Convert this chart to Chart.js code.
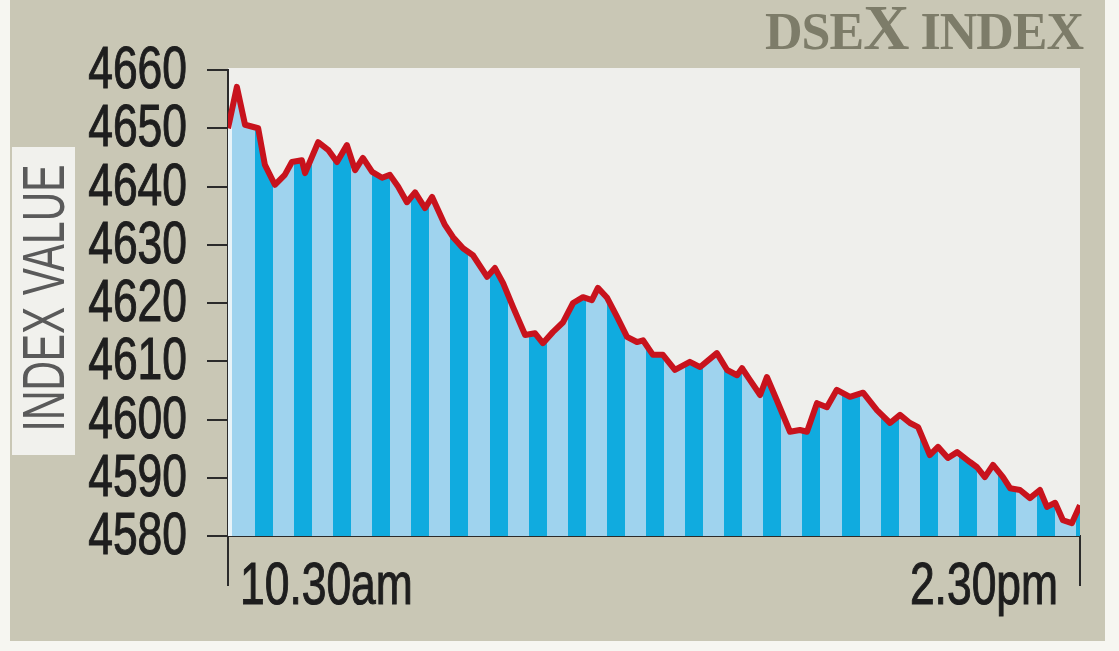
<!DOCTYPE html>
<html lang="en">
<head>
  <meta charset="UTF-8" />
  <title>DSEX Index</title>
  <script src="https://cdn.jsdelivr.net/npm/chart.js"></script>
  <style>
    body {
      margin: 0;
      background: #f6f6f1;
    }
    #wrap {
      position: relative;
      width: 1119px;
      height: 651px;
      overflow: hidden;
    }
    #panel {
      position: absolute;
      left: 10px;
      top: 0;
      width: 1095px;
      height: 641px;
      background: #c9c7b5;
    }
    #chart {
      position: absolute;
      left: 0;
      top: 0;
    }
    #title {
      position: absolute;
      right: 36px;
      top: -4px;
      font-family: 'Liberation Serif', 'DejaVu Serif', serif;
      font-weight: bold;
      font-size: 52px;
      line-height: 1;
      color: #7d7c69;
      white-space: nowrap;
      letter-spacing: -1px;
    }
    #title .big { font-size: 64px; }
    #ybox {
      position: absolute;
      left: 12px;
      top: 147px;
      width: 63px;
      height: 308px;
      background: #f1f1ed;
    }
    #ylabel {
      position: absolute;
      left: 44px;
      top: 298px;
      transform: translate(-50%, -50%) rotate(-90deg) scaleX(0.68);
      font-family: 'Liberation Sans', Arial, sans-serif;
      font-size: 60px;
      line-height: 1;
      color: #5a5a5a;
      white-space: nowrap;
    }
  </style>
</head>
<body>
  <div id="wrap">
    <div id="panel"></div>
    <div id="ybox"></div>
    <div id="ylabel">INDEX VALUE</div>
    <canvas id="chart" width="1119" height="651"></canvas>
    <div id="title">DSE<span class="big">X</span> INDEX</div>
  </div>
  <script>
    // minutes after 10.30am
    const minutes = [0, 2.5, 4.8, 8.5, 10.4, 13.2, 16, 18, 20.8, 21.7, 25.4, 28.2, 30.7, 33.5, 35.8, 38, 40.6, 43.4, 45.6, 47.9,
      50.4, 52.7, 55.5, 57.5, 61.1, 63.4, 66.2, 69, 73, 75.2, 77.5, 80.3, 83.7, 86.5, 88.7, 91.5, 94.4, 97.2, 100, 102.5,
      104.2, 106.8, 109.6, 112.4, 115.2, 116.9, 119.7, 122.5, 125.9, 130.1, 133, 137.7, 140.6, 143.4, 144.8, 147, 149.9, 151.8, 154.6, 158.3,
      161.1, 163.1, 165.9, 168.7, 171.5, 175.2, 178.9, 182.8, 186.5, 189.3, 192.1, 194.4, 197.7, 200, 202.8, 205.4, 209, 211, 213.2, 215.5,
      218.3, 220.3, 223.1, 225.9, 228.7, 230.7, 233, 235.2, 237.7, 240];

    const indexValues = [4650, 4657.1, 4650.6, 4650, 4643.7, 4640.3, 4642, 4644.2, 4644.5, 4642.3, 4647.6, 4646.3, 4644.2, 4647.1, 4642.8, 4644.9, 4642.5, 4641.5, 4642, 4640,
      4637.3, 4639, 4636.3, 4638.2, 4633.4, 4631.3, 4629.4, 4628.2, 4624.5, 4626, 4623.4, 4619.3, 4614.5, 4614.8, 4613.1, 4615, 4616.7, 4620, 4621, 4620.5,
      4622.6, 4620.9, 4617.6, 4614.2, 4613.3, 4613.6, 4611.1, 4611.1, 4608.5, 4609.9, 4609, 4611.4, 4608.5, 4607.6, 4608.8, 4606.8, 4604.2, 4607.3, 4603.3, 4597.9,
      4598.2, 4597.9, 4602.8, 4602.1, 4605.1, 4603.9, 4604.6, 4601.6, 4599.4, 4600.8, 4599.4, 4598.7, 4593.9, 4595.3, 4593.4, 4594.4, 4592.7, 4591.8, 4590.1, 4592.2,
      4590.1, 4588.2, 4587.9, 4586.5, 4587.9, 4585, 4585.7, 4582.7, 4582.2, 4585.3];

    const xTickValues = [0, 240];
    const xTickLabels = ['10.30am', '2.30pm'];
    const yMin = 4580, yMax = 4660, yStep = 10;

    const axisColor = '#2b2b2b';
    const labelFont = "60px 'Liberation Sans', Arial, sans-serif";
    const squeeze = 0.74; // the original uses a condensed face

    // vertical stripes under the line
    let stripeCache = null;
    function stripes(chart) {
      const area = chart.chartArea;
      if (!area) return '#9fd3ee';
      const key = area.left + ':' + area.width;
      if (stripeCache && stripeCache.key === key) return stripeCache.pattern;
      const tile = document.createElement('canvas');
      tile.width = Math.ceil(area.width) + 2;
      tile.height = 4;
      const t = tile.getContext('2d');
      t.fillStyle = '#9fd3ee';
      t.fillRect(0, 0, tile.width, 4);
      t.fillStyle = '#e8f3f8';
      t.fillRect(0, 0, 4, 4);
      t.fillStyle = '#10abdf';
      for (let x = 27; x < tile.width; x += 39.1) {
        t.fillRect(Math.round(x), 0, 18, 4);
      }
      const pattern = chart.ctx.createPattern(tile, 'repeat-y');
      pattern.setTransform(new DOMMatrix().translate(area.left, 0));
      stripeCache = { key, pattern };
      return pattern;
    }

    const plotBg = {
      id: 'plotBg',
      beforeDraw(chart) {
        const { ctx, chartArea: a } = chart;
        ctx.save();
        ctx.fillStyle = '#efefec';
        ctx.fillRect(a.left, a.top - 2, a.right - a.left, a.bottom - a.top + 2);
        ctx.restore();
      }
    };

    // tick labels, drawn condensed from the scales' own ticks
    function squeezedText(ctx, text, x, y, align) {
      ctx.save();
      ctx.translate(x, y);
      ctx.scale(squeeze, 1);
      ctx.textAlign = align;
      ctx.textBaseline = 'alphabetic';
      ctx.fillText(text, 0, 0);
      ctx.strokeText(text, 0, 0);
      ctx.restore();
    }

    const condensedTicks = {
      id: 'condensedTicks',
      afterDraw(chart) {
        const { ctx, scales: { x, y } } = chart;
        ctx.save();
        ctx.font = labelFont;
        ctx.fillStyle = '#1e1e1e';
        ctx.strokeStyle = '#1e1e1e';
        ctx.lineWidth = 1.1;
        y.ticks.forEach(t => {
          squeezedText(ctx, String(t.value), y.right - 41, y.getPixelForValue(t.value) + 18, 'right');
        });
        x.ticks.forEach((t, i) => {
          const px = x.getPixelForValue(t.value);
          const first = i === 0;
          squeezedText(ctx, xTickLabels[i], first ? px + 12 : px - 22, x.top + 68, first ? 'left' : 'right');
        });
        ctx.restore();
      }
    };

    new Chart(document.getElementById('chart'), {
      type: 'line',
      data: {
        datasets: [{
          data: minutes.map((m, i) => ({ x: m, y: indexValues[i] })),
          borderColor: '#c8131d',
          borderWidth: 6,
          borderJoinStyle: 'round',
          pointRadius: 0,
          tension: 0,
          fill: 'start',
          backgroundColor: ctx => stripes(ctx.chart)
        }]
      },
      options: {
        responsive: false,
        devicePixelRatio: 1,
        animation: false,
        layout: { padding: { left: 0, top: 70, right: 39, bottom: 0 } },
        plugins: { legend: { display: false }, tooltip: { enabled: false } },
        scales: {
          x: {
            type: 'linear',
            min: 0,
            max: 240,
            afterBuildTicks: s => { s.ticks = xTickValues.map(v => ({ value: v })); },
            afterFit: s => { s.height = 115; },
            ticks: { display: false },
            grid: { drawOnChartArea: false, tickLength: 50, color: axisColor, lineWidth: 2 },
            border: { color: axisColor, width: 2 }
          },
          y: {
            min: yMin,
            max: yMax,
            afterFit: s => { s.width = 228; },
            ticks: { display: false, stepSize: yStep, autoSkip: false },
            grid: { drawOnChartArea: false, tickLength: 21, color: axisColor, lineWidth: 2 },
            border: { color: axisColor, width: 2 }
          }
        }
      },
      plugins: [plotBg, condensedTicks]
    });
  </script>
</body>
</html>
